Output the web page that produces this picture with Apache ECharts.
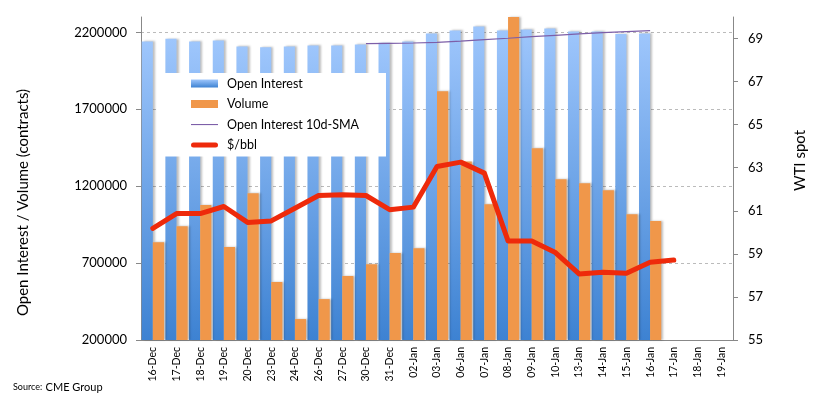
<!DOCTYPE html>
<html>
<head>
<meta charset="utf-8">
<script src="https://cdn.jsdelivr.net/npm/echarts@6/dist/echarts.min.js"></script>
<style>html,body{margin:0;padding:0;background:#fff}#c{width:824px;height:402px}</style>
</head>
<body>
<div id="c"></div>
<script>
const categories = ['16-Dec','17-Dec','18-Dec','19-Dec','20-Dec','23-Dec','24-Dec','26-Dec','27-Dec','30-Dec','31-Dec','02-Jan','03-Jan','06-Jan','07-Jan','08-Jan','09-Jan','10-Jan','13-Jan','14-Jan','15-Jan','16-Jan','17-Jan','18-Jan','19-Jan'];
const openInterest = [2141000,2159000,2141000,2148000,2109000,2103000,2109000,2115000,2115000,2122000,2133000,2141000,2193000,2213000,2239000,2213000,2219000,2226000,2206000,2206000,2189000,2193000,null,null,null];
const volume = [836000,940000,1077000,804000,1154000,577000,336000,466000,616000,693000,765000,797000,1817000,1360000,1083000,2300000,1447000,1245000,1219000,1174000,1018000,973000,null,null,null];
const oiSma = [null,null,null,null,null,null,null,null,null,2127000,2129000,2131000,2135000,2143000,2153000,2162000,2172000,2181000,2190000,2198000,2205000,2211000,null,null,null];
const wti = [60.18,60.87,60.87,61.2,60.46,60.53,61.12,61.71,61.74,61.71,61.05,61.17,63.06,63.26,62.75,59.6,59.6,59.06,58.07,58.15,58.1,58.61,58.71,null,null];
const leftTicks = [200000,700000,1200000,1700000,2200000];
const rightTicks = [55,57,59,61,63,65,67,69];

const font = 'Lato, "Open Sans", sans-serif';
const thinIcon = 'path://M0,0 M27,8 M0,3.5 L27,3.5 L27,4.6 L0,4.6 Z';
const thickIcon = 'path://M0,0 M27,8 M2.5,1.5 L24.5,1.5 A2.5,2.5 0 0 1 24.5,6.5 L2.5,6.5 A2.5,2.5 0 0 1 2.5,1.5 Z';
const chart = echarts.init(document.getElementById('c'));
chart.setOption({
  animation: false,
  textStyle: {fontFamily: font},
  grid: {left: 141, right: 91, top: 17, bottom: 62},
  legend: {
    orient: 'vertical', left: 158, top: 73,
    backgroundColor: '#fff', padding: [4, 27, 5, 33],
    itemWidth: 27, itemHeight: 8, itemGap: 7.5,
    textStyle: {fontSize: 12.5, color: '#000', fontFamily: font, padding: [0,0,0,4]},
    data: [
      {name: 'Open Interest', icon: 'rect'},
      {name: 'Volume', icon: 'rect'},
      {name: 'Open Interest 10d-SMA', icon: thinIcon},
      {name: '$/bbl', icon: thickIcon}
    ]
  },
  xAxis: {
    type: 'category', data: categories,
    axisLine: {lineStyle: {color: '#888'}},
    axisTick: {length: 4, lineStyle: {color: '#888'}},
    axisLabel: {rotate: 90, fontSize: 10.5, color: '#000', margin: 7, interval: 0}
  },
  yAxis: [
    {
      type: 'value', min: 200000, max: 2300000, interval: 500000,
      name: 'Open Interest / Volume (contracts)', nameLocation: 'middle', nameGap: 110,
      nameTextStyle: {fontSize: 15, color: '#000', padding: [0, 48, 0, 0]},
      axisLine: {show: true, lineStyle: {color: '#888'}},
      axisTick: {show: true, length: 5, lineStyle: {color: '#888'}},
      axisLabel: {fontSize: 13, color: '#000', margin: 14, showMaxLabel: false, formatter: v => String(v)},
      splitLine: {show: true, showMaxLine: false, lineStyle: {color: '#bbb', type: [3, 3]}}
    },
    {
      type: 'value', min: 55, max: 70, interval: 2,
      name: 'WTI spot', nameLocation: 'middle', nameGap: 60,
      nameTextStyle: {fontSize: 15, color: '#000', padding: [0, 0, 0, 36]},
      axisLine: {show: true, lineStyle: {color: '#888'}},
      axisTick: {show: true, length: 5, lineStyle: {color: '#888'}},
      axisLabel: {fontSize: 13, color: '#000', margin: 15, showMaxLabel: false, formatter: v => String(v)},
      splitLine: {show: false}
    }
  ],
  series: [
    {
      name: 'Open Interest', type: 'bar', data: openInterest, barGap: '0%', barCategoryGap: '6%',
      itemStyle: {
        color: new echarts.graphic.LinearGradient(0, 0, 0, 1, [{offset: 0, color: '#9ec6fc'}, {offset: 1, color: '#3d82d2'}]),
        shadowColor: 'rgba(0,0,0,0.25)', shadowBlur: 2, shadowOffsetX: 2
      }
    },
    {
      name: 'Volume', type: 'bar', data: volume,
      itemStyle: {color: '#f0974a', shadowColor: 'rgba(0,0,0,0.25)', shadowBlur: 2, shadowOffsetX: 2}
    },
    {
      name: 'Open Interest 10d-SMA', type: 'line', data: oiSma, symbol: 'none',
      lineStyle: {color: '#7d5fa8', width: 1.2}, itemStyle: {color: '#7d5fa8'}
    },
    {
      name: '$/bbl', type: 'line', yAxisIndex: 1, data: wti, symbol: 'none',
      lineStyle: {color: '#ee2a0b', width: 5, cap: 'round', join: 'round'}, itemStyle: {color: '#ee2a0b'}
    }
  ],
  graphic: [
    {type: 'text', left: 13, top: 381, style: {
      text: '{s|Source:} {b|CME Group}',
      rich: {s: {fontSize: 9, fill: '#000', fontFamily: font}, b: {fontSize: 11, fill: '#000', fontFamily: font}}
    }}
  ]
});
</script>
</body>
</html>
